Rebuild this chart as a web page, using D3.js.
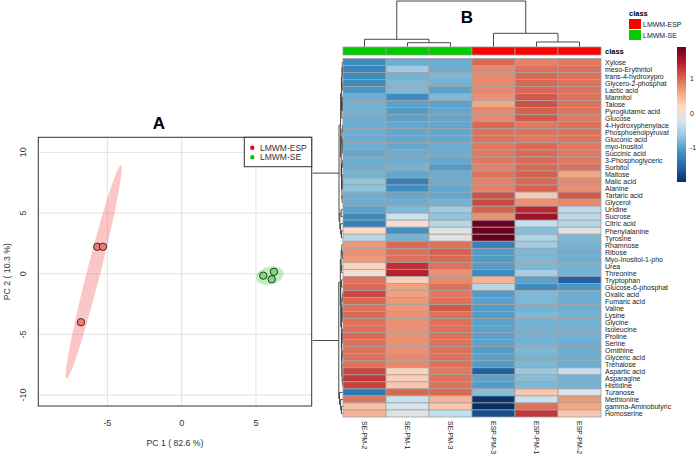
<!DOCTYPE html>
<html><head><meta charset="utf-8">
<script src="https://cdn.jsdelivr.net/npm/d3@7"></script>
<style>
html,body{margin:0;padding:0;background:#fff;}
svg{display:block;font-family:"Liberation Sans",Arial,sans-serif;}
</style></head>
<body>
<svg id="chart" width="696" height="456"></svg>
<script>
// ---------------- DATA ----------------
const pcaGroup = ["LMWM-ESP","LMWM-ESP","LMWM-ESP","LMWM-SE","LMWM-SE","LMWM-SE"];
const pc1 = [-5.68, -5.30, -6.78, 5.49, 6.21, 6.06];
const pc2 = [2.22, 2.22, -4.0, -0.16, 0.16, -0.46];
const pcaXTicks = [-5, 0, 5];
const pcaYTicks = [-10, -5, 0, 5, 10];
const groups = ["LMWM-ESP","LMWM-SE"];

const colNames = ["SE-PM-2","SE-PM-1","SE-PM-3","ESP-PM-3","ESP-PM-1","ESP-PM-2"];
const colClass = ["LMWM-SE","LMWM-SE","LMWM-SE","LMWM-ESP","LMWM-ESP","LMWM-ESP"];
const rowNames = ["Xylose","meso-Erythritol","trans-4-hydroxypro","Glycero-2-phosphat","Lactic acid","Mannitol","Talose","Pyroglutamic acid","Glucose","4-Hydroxyphenylace","Phosphoenolpyruvat","Gluconic acid","myo-Inositol","Succinic acid","3-Phosphoglyceric","Sorbitol","Maltose","Malic acid","Alanine","Tartaric acid","Glycerol","Uridine","Sucrose","Citric acid","Phenylalanine","Tyrosine","Rhamnose","Ribose","Myo-Inositol-1-pho","Urea","Threonine","Tryptophan","Glucose-6-phosphat","Oxalic acid","Fumaric acid","Valine","Lysine","Glycine","Isoleucine","Proline","Serine","Ornithine","Glyceric acid","Trehalose","Aspartic acid","Asparagine","Histidine","Turanose","Methionine","gamma-Aminobutyric","Homoserine"];
const heatValues = [
 [-1.2,-0.9,-0.9,1.0,0.85,0.9],
 [-1.25,-0.6,-0.9,0.8,0.95,0.95],
 [-1.2,-0.85,-0.8,0.8,1.0,0.95],
 [-1.2,-0.8,-0.85,0.8,1.0,0.95],
 [-1.1,-0.8,-1.0,0.8,1.0,0.95],
 [-0.9,-1.2,-0.8,0.75,1.1,0.95],
 [-0.85,-1.0,-1.0,0.6,1.15,0.95],
 [-0.85,-1.05,-0.95,0.8,1.05,0.95],
 [-0.9,-1.0,-0.95,0.8,1.1,0.9],
 [-0.9,-0.95,-0.95,1.0,0.9,0.95],
 [-0.9,-0.95,-0.95,0.95,0.95,0.95],
 [-0.9,-0.95,-0.95,0.95,0.9,0.95],
 [-0.9,-0.95,-0.9,0.9,1.0,0.9],
 [-0.95,-0.9,-0.9,0.9,1.0,0.9],
 [-0.9,-0.9,-0.95,0.9,1.0,0.9],
 [-0.9,-0.85,-1.05,0.85,1.0,0.95],
 [-0.85,-0.95,-0.9,0.95,1.05,0.6],
 [-0.7,-1.3,-0.9,0.85,1.0,0.8],
 [-0.7,-1.2,-0.95,0.85,1.05,0.75],
 [-0.9,-0.95,-0.95,1.15,0.35,1.1],
 [-0.9,-0.9,-0.85,1.2,0.75,0.8],
 [-1.0,-0.8,-0.6,1.05,1.4,-0.4],
 [-1.2,-0.3,-0.7,0.75,1.6,-0.4],
 [-1.3,0.1,-0.45,1.9,-0.35,-0.45],
 [0.2,-1.15,-0.1,1.9,-0.75,-0.1],
 [-0.45,-0.85,-0.1,1.93,-0.5,-0.8],
 [0.7,1.0,0.95,-1.3,-0.6,-0.85],
 [0.75,0.95,1.05,-1.05,-0.8,-0.9],
 [0.7,0.95,1.0,-1.05,-0.8,-0.9],
 [0.25,1.35,0.95,-1.05,-0.8,-0.85],
 [0.1,1.45,0.75,-1.2,-0.55,-0.85],
 [0.95,0.3,0.8,0.5,-1.0,-1.6],
 [1.0,0.65,0.95,-0.45,-1.2,-1.1],
 [1.2,0.65,0.9,-1.05,-0.8,-0.9],
 [1.0,0.7,0.95,-1.0,-0.8,-0.9],
 [0.95,0.7,1.1,-1.05,-0.85,-0.9],
 [1.0,0.75,0.95,-1.05,-0.8,-0.85],
 [0.95,0.75,0.95,-1.0,-0.85,-0.85],
 [0.95,0.75,0.95,-1.0,-0.85,-0.85],
 [1.0,0.75,0.95,-1.0,-0.85,-0.85],
 [0.95,0.75,0.95,-1.0,-0.85,-0.9],
 [0.95,0.75,0.95,-1.05,-0.8,-0.9],
 [0.95,0.8,0.95,-1.0,-0.85,-0.9],
 [0.95,0.8,0.95,-1.05,-0.8,-0.9],
 [1.2,0.25,0.9,-1.6,-0.65,-0.35],
 [1.3,0.3,0.95,-1.0,-0.75,-0.85],
 [1.25,0.35,0.95,-1.05,-0.8,-0.85],
 [-1.4,1.0,1.0,-0.75,0.35,-0.2],
 [0.95,-0.3,0.5,-1.95,-0.3,0.7],
 [0.4,-0.2,0.35,-2.0,0.95,0.6],
 [0.5,-0.15,-0.35,-1.75,1.3,0.35]
];
const legendTicks = [-1, 0, 1];
const palette = ["#053061","#2166AC","#4393C3","#92C5DE","#D1E5F0","#FDDBC7","#F4A582","#D6604D","#B2182B","#67001F"];

// dendrograms: [height, left, right] or leaf index
const colTree = [10, [1.62, 0, [0.875, 1, 2]], [2.93, 3, [1.03, 4, 5]]];
const rowTree = [10,
  [0.75,
    [0.45,
      [0.3,
        [0.2, [0.12, 0, [0.08, 1, 2]], [0.1, 3, 4]],
        [0.22, [0.1, 5, [0.06, 6, 7]], 8]],
      [0.35,
        [0.2, [0.08, 9, 10], [0.1, 11, [0.05, 12, 13]]],
        [0.28, [0.1, 14, 15], [0.2, [0.12, 16, [0.06, 17, 18]], [0.15, 19, 20]]]]],
    [0.6, [0.35, 21, 22], [0.45, 23, [0.3, 24, 25]]]],
  [0.8,
    [0.5,
      [0.35, [0.22, 26, [0.1, 27, 28]], [0.25, 29, 30]],
      [0.42, [0.3, 31, 32],
        [0.3,
          [0.2, [0.1, 33, 34], [0.12, 35, [0.05, 36, 37]]],
          [0.25, [0.1, 38, [0.05, 39, 40]], [0.22, [0.08, 41, 42], [0.2, 43, [0.15, 44, [0.1, 45, 46]]]]]]]],
    [0.65, 47, [0.45, 48, [0.3, 49, 50]]]]
];

// ---------------- DRAW ----------------
const svg = d3.select("#chart");
const font = '"Liberation Sans",Arial,sans-serif';
const groupColor = {"LMWM-ESP":"#FF0000","LMWM-SE":"#00CC00"};
const pointFill = {"LMWM-ESP":"#EE7B7B","LMWM-SE":"#7BDB7B"};
const ellFill = {"LMWM-ESP":"rgba(245,120,120,0.42)","LMWM-SE":"rgba(110,215,110,0.42)"};

// ===== Heatmap (B) =====
const hx = d3.scaleBand().domain(colNames).range([343, 601]);
const hy = d3.scaleBand().domain(rowNames).range([58.5, 417]);
const ext = d3.extent(heatValues.flat());
const color = d3.scaleLinear()
  .domain(palette.map((_, i) => ext[0] + i * (ext[1] - ext[0]) / (palette.length - 1)))
  .range(palette);

// row dendrogram (clipped by panel A)
svg.append("clipPath").attr("id","rclip").append("rect")
  .attr("x", 312.5).attr("y", 0).attr("width", 40).attr("height", 456);
const rdx = d3.scaleLinear().domain([0, 10]).range([343, 290]);
const rdg = svg.append("g").attr("clip-path","url(#rclip)")
  .attr("stroke","#333").attr("stroke-width",0.9).attr("fill","none");
function drawRow(node) {
  if (typeof node === "number") return {pos: hy(rowNames[node]) + hy.bandwidth()/2, h: 0};
  const a = drawRow(node[1]), b = drawRow(node[2]);
  const x = rdx(node[0]);
  rdg.append("path").attr("d",
    `M${rdx(a.h)},${a.pos}H${x}V${b.pos}H${rdx(b.h)}`);
  return {pos: (a.pos + b.pos)/2, h: node[0]};
}
drawRow(rowTree);

// column dendrogram
const cdy = d3.scaleLinear().domain([0, 10]).range([46.7, 1]);
const cdg = svg.append("g").attr("stroke","#333").attr("stroke-width",0.9).attr("fill","none");
function drawCol(node) {
  if (typeof node === "number") return {pos: hx(colNames[node]) + hx.bandwidth()/2, h: 0};
  const a = drawCol(node[1]), b = drawCol(node[2]);
  const y = cdy(node[0]);
  cdg.append("path").attr("d",
    `M${a.pos},${cdy(a.h)}V${y}H${b.pos}V${cdy(b.h)}`);
  return {pos: (a.pos + b.pos)/2, h: node[0]};
}
drawCol(colTree);

// class bar
svg.append("g").selectAll("rect").data(colNames).join("rect")
  .attr("x", d => hx(d)).attr("y", 47).attr("width", hx.bandwidth()).attr("height", 8)
  .attr("fill", (d, i) => groupColor[colClass[i]])
  .attr("stroke", "#9a9a9a").attr("stroke-width", 0.8);
svg.append("text").attr("x", 605).attr("y", 51).attr("dominant-baseline","central")
  .attr("font-size", 7.5).attr("font-weight","bold").text("class");

// cells
const cells = [];
heatValues.forEach((row, r) => row.forEach((v, c) => cells.push({r, c, v})));
svg.append("g").selectAll("rect").data(cells).join("rect")
  .attr("x", d => hx(colNames[d.c])).attr("y", d => hy(rowNames[d.r]))
  .attr("width", hx.bandwidth()).attr("height", hy.bandwidth())
  .attr("fill", d => color(d.v))
  .attr("stroke", "#a3a3a3").attr("stroke-width", 0.8);

// row labels
svg.append("g").selectAll("text").data(rowNames).join("text")
  .attr("x", 605).attr("y", d => hy(d) + hy.bandwidth()/2 + 0.3)
  .attr("dominant-baseline","central").attr("font-size", 7).attr("fill","#222")
  .text(d => d);
// column labels
svg.append("g").selectAll("text").data(colNames).join("text")
  .attr("transform", d => `translate(${hx(d) + hx.bandwidth()/2},421) rotate(90)`)
  .attr("dominant-baseline","central").attr("font-size", 7).attr("fill","#222")
  .text(d => d);

// B title
svg.append("text").attr("x", 467).attr("y", 17).attr("text-anchor","middle")
  .attr("dominant-baseline","central").attr("font-size", 17).attr("font-weight","bold").text("B");

// class legend
svg.append("text").attr("x", 629).attr("y", 13).attr("dominant-baseline","central")
  .attr("font-size", 7.5).attr("font-weight","bold").text("class");
const cl = svg.append("g").selectAll("g").data(groups).join("g")
  .attr("transform", (d, i) => `translate(629,${19 + i*11})`);
cl.append("rect").attr("width", 12).attr("height", 10).attr("fill", d => groupColor[d]);
cl.append("text").attr("x", 14).attr("y", 5).attr("dominant-baseline","central")
  .attr("font-size", 7).attr("fill","#222").text(d => d);

// color gradient legend
const grad = svg.append("defs").append("linearGradient").attr("id","hgrad")
  .attr("x1",0).attr("y1",1).attr("x2",0).attr("y2",0);
palette.forEach((c, i) => grad.append("stop").attr("offset", i/(palette.length-1)).attr("stop-color", c));
const ly = d3.scaleLinear().domain(ext).range([182, 47]);
svg.append("rect").attr("x", 677).attr("y", 47).attr("width", 9).attr("height", 135).attr("fill","url(#hgrad)");
svg.append("g").selectAll("text").data(legendTicks).join("text")
  .attr("x", 690).attr("y", d => ly(d)).attr("dominant-baseline","central")
  .attr("font-size", 7).attr("fill","#222").text(d => d);

// ===== PCA (A) =====
const px = d3.scaleLinear().domain([-9.65, 8.75]).range([38.3, 311.7]);
const py = d3.scaleLinear().domain([-10.9, 11.24]).range([406, 137.3]);
const pa = svg.append("g");
pa.append("rect").attr("x", 38.3).attr("y", 137.3).attr("width", 273.4).attr("height", 268.7).attr("fill","#fff");
// grid
pa.append("g").selectAll("line").data(pcaXTicks).join("line")
  .attr("x1", d => px(d)).attr("x2", d => px(d)).attr("y1", 137.3).attr("y2", 406)
  .attr("stroke","#e2e2e2").attr("stroke-width",1);
pa.append("g").selectAll("line").data(pcaYTicks).join("line")
  .attr("y1", d => py(d)).attr("y2", d => py(d)).attr("x1", 38.3).attr("x2", 311.7)
  .attr("stroke","#e2e2e2").attr("stroke-width",1);

// 95% ellipses
const t95 = Math.sqrt(5.991464547);
groups.forEach(g => {
  const idx = pcaGroup.map((d, i) => d === g ? i : -1).filter(i => i >= 0);
  const xs = idx.map(i => pc1[i]), ys = idx.map(i => pc2[i]);
  const mx = d3.mean(xs), my = d3.mean(ys);
  const n = xs.length;
  const sx = Math.sqrt(d3.sum(xs, v => (v - mx) ** 2) / (n - 1));
  const sy = Math.sqrt(d3.sum(ys, v => (v - my) ** 2) / (n - 1));
  const r = d3.sum(idx, i => (pc1[i] - mx) * (pc2[i] - my)) / (n - 1) / (sx * sy);
  const dd = Math.acos(Math.max(-1, Math.min(1, r)));
  const pts = d3.range(0, 101).map(k => {
    const a = -Math.PI + 2 * Math.PI * k / 100;
    return [px(mx + t95 * sx * Math.cos(a + dd/2)), py(my + t95 * sy * Math.cos(a - dd/2))];
  });
  pa.append("path").attr("d", d3.line()(pts) + "Z").attr("fill", ellFill[g]).attr("stroke","none");
});

// points
pa.append("g").selectAll("circle").data(pc1).join("circle")
  .attr("cx", d => px(d)).attr("cy", (d, i) => py(pc2[i])).attr("r", 3.7)
  .attr("fill", (d, i) => pointFill[pcaGroup[i]]).attr("stroke","#111").attr("stroke-width",0.8);

// frame
pa.append("rect").attr("x", 38.3).attr("y", 137.3).attr("width", 273.4).attr("height", 268.7)
  .attr("fill","none").attr("stroke","#333").attr("stroke-width",1);

// tick labels
pa.append("g").selectAll("text").data(pcaXTicks).join("text")
  .attr("x", d => px(d)).attr("y", 422.7).attr("text-anchor","middle").attr("dominant-baseline","central")
  .attr("font-size", 9).attr("fill","#333").text(d => d);
pa.append("g").selectAll("text").data(pcaYTicks).join("text")
  .attr("transform", d => `translate(23.3,${py(d)}) rotate(-90)`)
  .attr("text-anchor","middle").attr("dominant-baseline","central")
  .attr("font-size", 9).attr("fill","#333").text(d => d);
// axis titles
pa.append("text").attr("x", 175).attr("y", 442.7).attr("text-anchor","middle").attr("dominant-baseline","central")
  .attr("font-size", 8.7).attr("fill","#333").text("PC 1 ( 82.6 %)");
pa.append("text").attr("transform", "translate(7,271.7) rotate(-90)").attr("text-anchor","middle")
  .attr("dominant-baseline","central").attr("font-size", 8.7).attr("fill","#333").text("PC 2 ( 10.3 %)");
// title
pa.append("text").attr("x", 159).attr("y", 123).attr("text-anchor","middle").attr("dominant-baseline","central")
  .attr("font-size", 17).attr("font-weight","bold").text("A");

// legend A
pa.append("rect").attr("x", 244.3).attr("y", 137.3).attr("width", 67.4).attr("height", 29.4)
  .attr("fill","#fff").attr("stroke","#333").attr("stroke-width",1);
const la = pa.append("g").selectAll("g").data(groups).join("g")
  .attr("transform", (d, i) => `translate(252.3,${147.7 + i*9.6})`);
la.append("circle").attr("r", 2.2).attr("fill", d => groupColor[d]);
la.append("text").attr("x", 7.7).attr("dominant-baseline","central").attr("font-size", 8.5)
  .attr("fill","#333").text(d => d);
</script>
</body></html>
